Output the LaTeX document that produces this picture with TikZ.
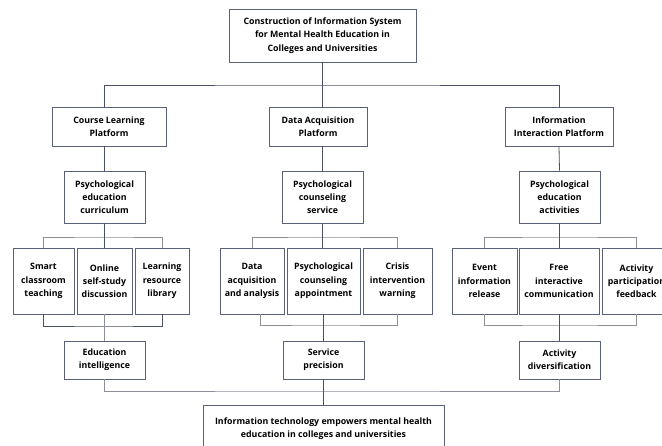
\documentclass[tikz,border=0pt]{standalone}
\usepackage{fontspec}
\setmainfont{Open Sans}
\begin{document}
\begin{tikzpicture}[x=1pt,y=-1pt,
  box/.style={draw=boxc, line width=0.8pt, fill=white, inner sep=0pt, align=center,
    font=\bfseries\fontsize{8.8}{13.3}\selectfont, text=black},
  conn/.style={draw=linec, line width=0.8pt},
  lconn/.style={draw=lightc, line width=0.8pt}]
\definecolor{boxc}{HTML}{5A6077}
\definecolor{linec}{HTML}{4B5064}
\definecolor{lightc}{HTML}{8C8F98}
\useasboundingbox[fill=white] (0,0) rectangle (662,445);
% level 1
\node[box, minimum width=187pt, minimum height=53pt] (top) at (322.5,35.5)
  {Construction of Information System\\for Mental Health Education in\\Colleges and Universities};
% level 2
\node[box, minimum width=114pt, minimum height=39pt] (course) at (109,126.5) {Course Learning\\Platform};
\node[box, minimum width=98pt, minimum height=39pt] (data) at (318,126.5) {Data Acquisition\\Platform};
\node[box, minimum width=108pt, minimum height=39pt] (info) at (559,126.5) {Information\\Interaction Platform};
% level 3
\node[box, minimum width=81pt, minimum height=52pt] (curr) at (104.5,197) {Psychological\\education\\curriculum};
\node[box, minimum width=81pt, minimum height=52pt] (couns) at (322.5,197) {Psychological\\counseling\\service};
\node[box, minimum width=81pt, minimum height=52pt] (act) at (559.5,197) {Psychological\\education\\activities};
% level 4
\node[box, minimum width=61pt, minimum height=66pt] (smart) at (43.5,281) {Smart\\classroom\\teaching};
\node[box, minimum width=55pt, minimum height=66pt] (online) at (104.5,281) {Online\\self-study\\discussion};
\node[box, minimum width=54pt, minimum height=66pt] (learn) at (162,281) {Learning\\resource\\library};
\node[box, minimum width=64pt, minimum height=66pt] (dacq) at (252,281) {Data\\acquisition\\and analysis};
\node[box, minimum width=73pt, minimum height=66pt] (appt) at (323.5,281) {Psychological\\counseling\\appointment};
\node[box, minimum width=69pt, minimum height=66pt] (crisis) at (397.5,281) {Crisis\\intervention\\warning};
\node[box, minimum width=65pt, minimum height=66pt] (event) at (484.5,281) {Event\\information\\release};
\node[box, minimum width=80pt, minimum height=66pt] (free) at (559,281) {Free\\interactive\\communication};
\node[box, minimum width=69pt, minimum height=66pt] (partic) at (636.5,281) {Activity\\participation\\feedback};
% level 5
\node[box, minimum width=81pt, minimum height=38pt] (edu) at (104.5,360) {Education\\intelligence};
\node[box, minimum width=81pt, minimum height=38pt] (serv) at (323.5,360) {Service\\precision};
\node[box, minimum width=81pt, minimum height=38pt] (div) at (559.5,360) {Activity\\diversification};
% level 6
\node[box, minimum width=241pt, minimum height=47pt] (final) at (323.5,428.5)
  {Information technology empowers mental health\\education in colleges and universities};
% bus coordinates
\coordinate (b1) at (323,85);
\coordinate (s1) at (104.5,237);
\coordinate (s2) at (323,237);
\coordinate (s3) at (559,237);
\coordinate (t1) at (104.5,326);
\coordinate (t2) at (323.5,325);
\coordinate (t3) at (559,325);
\coordinate (u1) at (323.5,391);
% connectors level 1-2
\draw[conn] (top.south) -- (top.south |- data.north);
\draw[conn] (course.north -| curr.north) |- (b1) -| (info.north);
% level 2-3
\draw[conn] (curr.north |- course.south) -- (curr.north);
\draw[conn] (couns.north |- data.south) -- (couns.north);
\draw[conn] (info.south) -- (act.north);
% level 3-4
\draw[lconn] (smart.north) |- (s1) -| (learn.north);
\draw[conn] (curr.south) -- (online.north);
\draw[lconn] (dacq.north) |- (s2) -| (crisis.north);
\draw[conn] (couns.south) -- (couns.south |- appt.north);
\draw[lconn] (event.north) |- (s3) -| (partic.north);
\draw[conn] (act.south) -- (act.south |- free.north);
% level 4-5
\draw[conn] (smart.south) |- (t1) -| (learn.south);
\draw[lconn] (online.south) -- (edu.north);
\draw[lconn] ([xshift=8pt]dacq.south) |- (t2) -| (crisis.south);
\draw[conn] (appt.south) -- (serv.north -| appt.south);
\draw[lconn] (event.south) |- (t3) -| (partic.south);
\draw[conn] (free.south) -- (div.north -| free.south);
% level 5-6
\draw[lconn] (edu.south) |- (u1) -| (div.south);
\draw[conn] (serv.south) -- (final.north -| serv.south);
\end{tikzpicture}
\end{document}
